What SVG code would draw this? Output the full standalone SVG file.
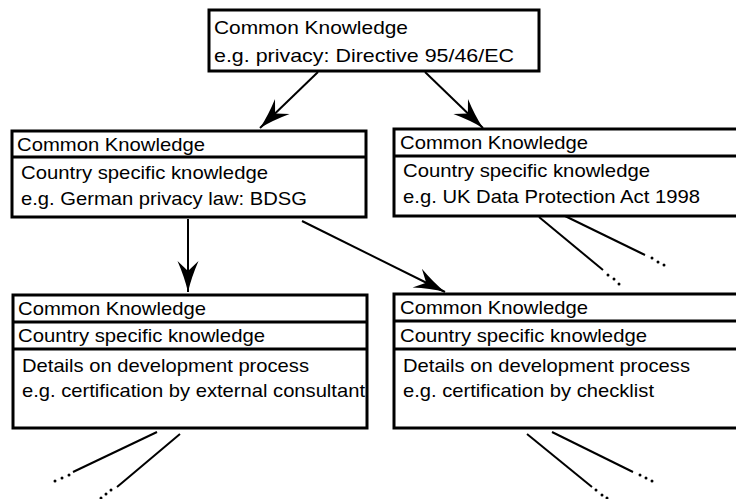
<svg xmlns="http://www.w3.org/2000/svg" width="736" height="499" viewBox="0 0 736 499">
  <style>
    .box { fill: #fff; stroke: #000; stroke-width: 3; }
    .div { stroke: #000; stroke-width: 3; }
    .t { font-family: "Liberation Sans", Arial, Helvetica, sans-serif; font-size: 19px; fill: #000; }
    .edge { stroke: #000; stroke-width: 2; fill: none; }
    .dot { fill: #000; }
  </style>
  <defs>
    <marker id="head" markerUnits="userSpaceOnUse" viewBox="-32 -11 34 22" refX="0" refY="0" markerWidth="34" markerHeight="22" orient="auto">
      <path d="M0,0 Q-15,-3.5 -31,-10.5 L-21,0 L-31,10.5 Q-15,3.5 0,0 Z" fill="#000"/>
    </marker>
  </defs>
  <rect width="736" height="499" fill="#fff"/>

  <!-- connectors -->
  <g id="connectors">
    <line class="edge" x1="318" y1="72" x2="260" y2="128" marker-end="url(#head)"/>
    <line class="edge" x1="425" y1="72" x2="483" y2="128" marker-end="url(#head)"/>
    <line class="edge" x1="188" y1="219" x2="188" y2="292" marker-end="url(#head)"/>
    <line class="edge" x1="302" y1="221" x2="445" y2="292" marker-end="url(#head)"/>

    <!-- continuation strokes below the UK node -->
    <line class="edge" x1="539" y1="217" x2="603" y2="270"/>
    <circle class="dot" cx="608" cy="275" r="1.5"/>
    <circle class="dot" cx="614" cy="279" r="1.5"/>
    <circle class="dot" cx="619" cy="284" r="1.5"/>
    <line class="edge" x1="565" y1="216" x2="645" y2="255"/>
    <circle class="dot" cx="652" cy="258" r="1.5"/>
    <circle class="dot" cx="658" cy="262" r="1.5"/>
    <circle class="dot" cx="664" cy="265" r="1.5"/>

    <!-- continuation strokes below the consultant node -->
    <line class="edge" x1="157" y1="432" x2="73" y2="472"/>
    <circle class="dot" cx="69" cy="475" r="1.5"/>
    <circle class="dot" cx="62" cy="478" r="1.5"/>
    <circle class="dot" cx="55" cy="481" r="1.5"/>
    <line class="edge" x1="180" y1="434" x2="117" y2="487"/>
    <circle class="dot" cx="111" cy="490" r="1.5"/>
    <circle class="dot" cx="106" cy="494" r="1.5"/>
    <circle class="dot" cx="101" cy="498" r="1.5"/>

    <!-- continuation strokes below the checklist node -->
    <line class="edge" x1="527" y1="434" x2="592" y2="487"/>
    <circle class="dot" cx="596" cy="490" r="1.5"/>
    <circle class="dot" cx="602" cy="495" r="1.5"/>
    <circle class="dot" cx="607" cy="498" r="1.5"/>
    <line class="edge" x1="552" y1="432" x2="633" y2="472"/>
    <circle class="dot" cx="640" cy="475" r="1.5"/>
    <circle class="dot" cx="646" cy="478" r="1.5"/>
    <circle class="dot" cx="652" cy="481" r="1.5"/>
  </g>

  <!-- EU level -->
  <g id="node-eu">
    <rect class="box" x="209" y="10" width="330" height="61"/>
    <text class="t" x="214" y="34" textLength="194" lengthAdjust="spacingAndGlyphs">Common Knowledge</text>
    <text class="t" x="214" y="62" textLength="300" lengthAdjust="spacingAndGlyphs">e.g. privacy: Directive 95/46/EC</text>
  </g>

  <!-- Germany -->
  <g id="node-de">
    <rect class="box" x="12" y="131" width="354" height="86"/>
    <line class="div" x1="12" y1="157" x2="366" y2="157"/>
    <text class="t" x="17" y="151" textLength="188" lengthAdjust="spacingAndGlyphs">Common Knowledge</text>
    <text class="t" x="21" y="179" textLength="247" lengthAdjust="spacingAndGlyphs">Country specific knowledge</text>
    <text class="t" x="21" y="205" textLength="286" lengthAdjust="spacingAndGlyphs">e.g. German privacy law: BDSG</text>
  </g>

  <!-- United Kingdom -->
  <g id="node-uk">
    <rect class="box" x="394" y="129" width="350" height="87"/>
    <line class="div" x1="394" y1="156" x2="744" y2="156"/>
    <text class="t" x="400" y="149" textLength="188" lengthAdjust="spacingAndGlyphs">Common Knowledge</text>
    <text class="t" x="403" y="177" textLength="247" lengthAdjust="spacingAndGlyphs">Country specific knowledge</text>
    <text class="t" x="403" y="203" textLength="297" lengthAdjust="spacingAndGlyphs">e.g. UK Data Protection Act 1998</text>
  </g>

  <!-- development process: external consultant -->
  <g id="node-consultant">
    <rect class="box" x="13" y="295" width="354" height="133"/>
    <line class="div" x1="13" y1="322" x2="367" y2="322"/>
    <line class="div" x1="13" y1="349" x2="367" y2="349"/>
    <text class="t" x="18" y="315" textLength="188" lengthAdjust="spacingAndGlyphs">Common Knowledge</text>
    <text class="t" x="18" y="342" textLength="247" lengthAdjust="spacingAndGlyphs">Country specific knowledge</text>
    <text class="t" x="22" y="372" textLength="287" lengthAdjust="spacingAndGlyphs">Details on development process</text>
    <text class="t" x="22" y="397" textLength="343" lengthAdjust="spacingAndGlyphs">e.g. certification by external consultant</text>
  </g>

  <!-- development process: checklist -->
  <g id="node-checklist">
    <rect class="box" x="394" y="294" width="350" height="134"/>
    <line class="div" x1="394" y1="321" x2="744" y2="321"/>
    <line class="div" x1="394" y1="349" x2="744" y2="349"/>
    <text class="t" x="400" y="314" textLength="188" lengthAdjust="spacingAndGlyphs">Common Knowledge</text>
    <text class="t" x="400" y="342" textLength="247" lengthAdjust="spacingAndGlyphs">Country specific knowledge</text>
    <text class="t" x="403" y="372" textLength="287" lengthAdjust="spacingAndGlyphs">Details on development process</text>
    <text class="t" x="403" y="397" textLength="251" lengthAdjust="spacingAndGlyphs">e.g. certification by checklist</text>
  </g>
</svg>
